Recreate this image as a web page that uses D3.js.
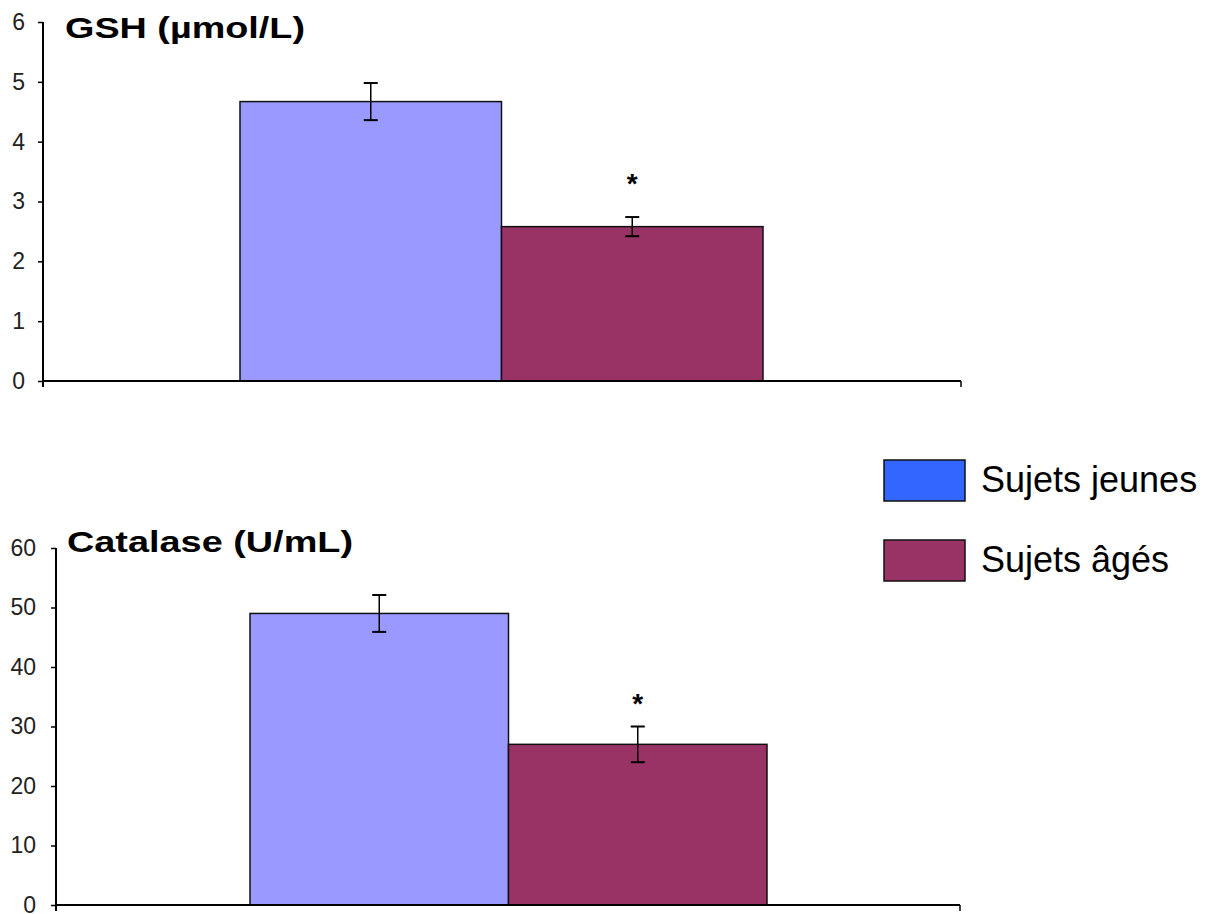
<!DOCTYPE html>
<html><head><meta charset="utf-8">
<script src="https://cdn.jsdelivr.net/npm/d3@7"></script>
<style>body{margin:0;background:#fff;} svg{display:block;} text{font-family:"Liberation Sans",Arial,sans-serif;}</style>
</head><body>
<svg id="c" width="1215" height="914"></svg>
<script>
const groups = ["Sujets jeunes", "Sujets âgés"];
const legendColors = ["#3366ff", "#993366"];
const barColors = ["#9999ff", "#993366"];
const gshValues = [4.67, 2.58];
const gshErrors = [0.31, 0.16];
const gshTicks = [0, 1, 2, 3, 4, 5, 6];
const catValues = [49, 27];
const catErrors = [3.1, 3.0];
const catTicks = [0, 10, 20, 30, 40, 50, 60];
const significant = [false, true];

const svg = d3.select("#c");

function panel(opt) {
  const g = svg.append("g");
  const y = d3.scaleLinear().domain([0, opt.max]).range([opt.y0, opt.y1]);
  const x = d3.scaleBand().domain(groups).range([opt.bx0, opt.bx1]).padding(0);
  // y axis
  const ya = g.append("g").attr("transform", `translate(${opt.ax},0)`)
    .call(d3.axisLeft(y).tickValues(opt.ticks).tickSize(5).tickPadding(opt.pad).tickFormat(d3.format("d")));
  ya.select(".domain").attr("stroke", "#000").attr("stroke-width", 2).attr("d", `M-0,${opt.y1}V${opt.y0 + 6}`);
  ya.selectAll(".tick line").attr("stroke", "#000").attr("stroke-width", 1.5);
  ya.selectAll(".tick text").attr("fill", "#222").style("font-size", "23px");
  // bars
  g.selectAll("rect.bar").data(opt.values).join("rect")
    .attr("x", (d, i) => x(groups[i])).attr("width", x.bandwidth())
    .attr("y", d => y(d)).attr("height", d => y(0) - y(d))
    .attr("fill", (d, i) => barColors[i]).attr("stroke", "#111").attr("stroke-width", 1.5);
  // x axis
  g.append("line").attr("x1", opt.ax).attr("x2", opt.axEnd).attr("y1", y(0)).attr("y2", y(0))
    .attr("stroke", "#000").attr("stroke-width", 2);
  g.append("line").attr("x1", opt.axEnd).attr("x2", opt.axEnd).attr("y1", y(0)).attr("y2", y(0) + 6)
    .attr("stroke", "#000").attr("stroke-width", 1.5);
  // error bars
  opt.values.forEach((v, i) => {
    const cx = x(groups[i]) + x.bandwidth() / 2;
    const e = opt.errors[i];
    g.append("line").attr("x1", cx).attr("x2", cx).attr("y1", y(v + e)).attr("y2", y(v - e)).attr("stroke", "#000").attr("stroke-width", 1.5);
    [v + e, v - e].forEach(t => g.append("line").attr("x1", cx - 7).attr("x2", cx + 7).attr("y1", y(t)).attr("y2", y(t)).attr("stroke", "#000").attr("stroke-width", 2));
    if (significant[i]) {
      g.append("text").attr("x", cx).attr("y", y(v + e) + opt.starDy).attr("text-anchor", "middle")
        .style("font-size", "28px").style("font-weight", "bold").text("*");
    }
  });
  g.append("text").attr("x", opt.tx).attr("y", opt.ty).style("font-size", "30px").style("font-weight", "bold")
    .attr("textLength", opt.tlen).attr("lengthAdjust", "spacingAndGlyphs").text(opt.title);
}

panel({title: "GSH (µmol/L)", max: 6, ticks: gshTicks, values: gshValues, errors: gshErrors,
  ax: 43, axEnd: 961, bx0: 240, bx1: 763, y0: 381, y1: 22, tx: 65, ty: 38, tlen: 240, pad: 13, starDy: -24});
panel({title: "Catalase (U/mL)", max: 60, ticks: catTicks, values: catValues, errors: catErrors,
  ax: 56, axEnd: 960, bx0: 250, bx1: 767, y0: 905, y1: 548, tx: 67, ty: 552, tlen: 286, pad: 15, starDy: -14});

// legend
const lg = svg.append("g");
const ly = [460, 540];
groups.forEach((gname, i) => {
  lg.append("rect").attr("x", 884).attr("y", ly[i]).attr("width", 81).attr("height", 41)
    .attr("fill", legendColors[i]).attr("stroke", "#111").attr("stroke-width", 1.5);
  lg.append("text").attr("x", 981).attr("y", ly[i] + 32).style("font-size", "36px").text(gname);
});
</script>
</body></html>
